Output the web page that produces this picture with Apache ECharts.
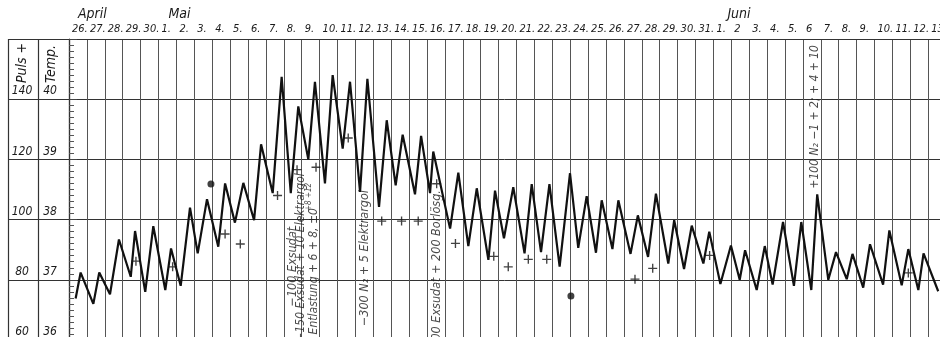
<!DOCTYPE html>
<html>
<head>
<meta charset="utf-8">
<script src="https://cdn.jsdelivr.net/npm/echarts@6/dist/echarts.min.js"></script>
<style>
  html, body { margin: 0; padding: 0; background: #fff; }
  #chart { width: 940px; height: 337px; }
</style>
</head>
<body>
<div id="chart"></div>
<script>
// Tage: 26. April bis 13. Juni, eine Spalte pro Tag
const dayLabels = ['26.', '27.', '28.', '29.', '30.',
  '1.', '2.', '3.', '4.', '5.', '6.', '7.', '8.', '9.', '10.', '11.', '12.', '13.', '14.', '15.', '16.',
  '17.', '18.', '19.', '20.', '21.', '22.', '23.', '24.', '25.', '26.', '27.', '28.', '29.', '30.', '31.',
  '1.', '2', '3.', '4.', '5.', '6', '7.', '8.', '9.', '10.', '11.', '12.', '13.'];
const monthNames = ['April', 'Mai', 'Juni'];
const monthStart = [0, 5, 36];

// Temperatur (morgens / abends), Position in Tagen ab 26. April
const tempDay = [0.37, 0.65, 1.36, 1.69, 2.29, 2.79, 3.45, 3.69, 4.26, 4.71, 5.38, 5.70, 6.24, 6.76, 7.19, 7.71,
  8.34, 8.72, 9.27, 9.74, 10.34, 10.73, 11.38, 11.88, 12.39, 12.81, 13.37, 13.74, 14.30, 14.73, 15.29, 15.70,
  16.26, 16.67, 17.32, 17.75, 18.25, 18.64, 19.33, 19.67, 20.17, 20.35, 21.29, 21.75, 22.31, 22.78, 23.43, 23.80,
  24.30, 24.82, 25.45, 25.85, 26.37, 26.84, 27.41, 27.99, 28.45, 28.92, 29.44, 29.76, 30.36, 30.69, 31.37, 31.78,
  32.35, 32.79, 33.48, 33.81, 34.36, 34.79, 35.44, 35.77, 36.39, 36.98, 37.47, 37.77, 38.42, 38.87, 39.31, 39.89,
  40.50, 40.91, 41.47, 41.80, 42.42, 42.85, 43.45, 43.77, 44.37, 44.75, 45.48, 45.83, 46.52, 46.89, 47.45, 47.74,
  48.56];
const tempValue = [36.69, 37.12, 36.60, 37.12, 36.76, 37.67, 37.05, 37.81, 36.80, 37.89, 36.83, 37.52, 36.90, 38.20, 37.44, 38.34,
  37.55, 38.60, 37.95, 38.61, 37.99, 39.25, 38.44, 40.37, 38.44, 39.88, 39.00, 40.29, 38.60, 40.40, 39.18, 40.29,
  38.46, 40.34, 38.21, 39.65, 38.57, 39.41, 38.42, 39.39, 38.44, 39.13, 37.85, 38.78, 37.56, 38.52, 37.33, 38.48,
  37.69, 38.54, 37.44, 38.59, 37.46, 38.59, 37.22, 38.77, 37.53, 38.39, 37.45, 38.32, 37.51, 38.32, 37.43, 38.07,
  37.38, 38.43, 37.27, 37.99, 37.18, 37.90, 37.27, 37.80, 36.93, 37.57, 37.00, 37.49, 36.83, 37.56, 36.92, 37.96,
  36.90, 37.96, 36.83, 38.42, 37.00, 37.46, 37.01, 37.43, 36.87, 37.59, 36.92, 37.82, 36.91, 37.51, 36.83, 37.44,
  36.81];

// Puls (+)
const pulsDay = [3.74, 5.79, 8.72, 9.57, 11.65, 12.74, 13.80, 15.60, 17.47, 18.58, 19.51, 20.54, 21.59, 23.73,
  24.54, 25.66, 26.69, 31.62, 32.61, 35.79, 46.89];
const pulsValue = [86.2, 84.3, 95.2, 91.9, 108.0, 116.6, 117.4, 127.1, 99.5, 99.5, 99.5, 111.9, 92.1, 87.8,
  84.3, 86.8, 86.8, 80.2, 83.8, 88.1, 82.3];

// Punkte
const dotDay = [7.93, 28.04];
const dotTemp = [38.59, 36.73];

// Eintragungen (senkrecht geschrieben)
const noteText = ['\u2212100 Exsudat', '\u2212150 Exsudat + 10 Elektrargol', '+8 +12', 'Entlastung + 6 + 8, \u00b10',
  '\u2212300 N\u2082 + 5 Elektrargol', '\u2212300 Exsudat + 200 Borl\u00f6sg.', '+100 N\u2082 \u22121 + 2; + 4 + 10'];
const noteDay = [12.51, 12.96, 13.43, 13.66, 16.54, 20.56, 41.68];
const noteTemp = [37.88, 38.77, 38.61, 38.19, 38.49, 38.49, 40.90];
const noteSize = [12.5, 12, 8, 12, 12.5, 12.5, 12];

const hand = "'Liberation Sans Narrow', 'DejaVu Sans Condensed', 'Liberation Sans', sans-serif";
const ink = '#1a1a1a';

const chart = echarts.init(document.getElementById('chart'));
chart.setOption({
  backgroundColor: '#fff',
  animation: false,
  textStyle: { fontFamily: hand, fontStyle: 'italic', color: ink },
  grid: [
    { left: 69, top: 39, width: 871, height: 301, containLabel: false, outerBoundsMode: 'none' },
    { left: 8, top: 39, width: 61, height: 301, containLabel: false, outerBoundsMode: 'none' }
  ],
  xAxis: [
    {
      type: 'value', gridIndex: 0, position: 'top', min: 0, max: 48.66, interval: 1,
      axisLine: { show: true, lineStyle: { color: '#333', width: 1.2 } },
      axisTick: { show: false },
      splitLine: { show: true, lineStyle: { color: '#555', width: 1 } },
      axisLabel: {
        margin: 4, align: 'left', padding: [0, 0, 0, 3],
        fontSize: 11, fontStyle: 'italic', fontFamily: hand, color: ink,
        formatter: v => (Number.isInteger(v) && dayLabels[v] !== undefined) ? dayLabels[v] : ''
      }
    },
    {
      type: 'value', gridIndex: 0, position: 'top', offset: 14, min: 0, max: 48.66, interval: 1,
      axisLine: { show: false }, axisTick: { show: false }, splitLine: { show: false },
      axisLabel: {
        margin: 4, align: 'left',
        fontSize: 14, fontStyle: 'italic', fontFamily: hand, color: ink,
        formatter: v => {
          const i = monthStart.indexOf(v);
          return i >= 0 ? '{m' + i + '|' + monthNames[i] + '}' : '';
        },
        rich: {
          m0: { fontSize: 14, fontStyle: 'italic', fontFamily: hand, color: ink, padding: [0, 0, 0, 9] },
          m1: { fontSize: 14, fontStyle: 'italic', fontFamily: hand, color: ink, padding: [0, 0, 0, 10] },
          m2: { fontSize: 14, fontStyle: 'italic', fontFamily: hand, color: ink, padding: [0, 0, 0, 14] }
        }
      }
    },
    {
      type: 'value', gridIndex: 1, min: 0, max: 2, interval: 1,
      axisLine: { show: false }, axisTick: { show: false }, axisLabel: { show: false },
      splitLine: { show: true, lineStyle: { color: '#333', width: 1.2 } }
    }
  ],
  yAxis: [
    {
      type: 'value', gridIndex: 0, min: 36, max: 41, interval: 1,
      axisLine: { show: true, lineStyle: { color: '#333', width: 1.2 } },
      axisTick: { show: true, inside: true, length: 8, lineStyle: { color: '#444' } },
      minorTick: { show: true, splitNumber: 10, length: 5, lineStyle: { color: '#555' } },
      splitLine: { show: true, lineStyle: { color: '#333', width: 1 } },
      axisLabel: {
        margin: 19, align: 'center', verticalAlign: 'bottom', padding: [0, 0, 2, 0],
        fontSize: 12, fontStyle: 'italic', fontFamily: hand, color: ink,
        formatter: v => v < 41 ? String(v) : ''
      }
    },
    {
      type: 'value', gridIndex: 0, min: 60, max: 160, interval: 20,
      position: 'left',
      axisLine: { show: false }, axisTick: { show: false }, splitLine: { show: false },
      axisLabel: {
        margin: 47, align: 'center', verticalAlign: 'bottom', padding: [0, 0, 2, 0],
        fontSize: 12, fontStyle: 'italic', fontFamily: hand, color: ink,
        formatter: v => v < 160 ? String(v) : ''
      }
    },
    {
      type: 'value', gridIndex: 1, min: 36, max: 41, interval: 1,
      axisLine: { show: false }, axisTick: { show: false }, axisLabel: { show: false },
      splitLine: { show: true, lineStyle: { color: '#333', width: 1 } }
    }
  ],
  graphic: [
    { type: 'text', x: 22, y: 63, rotation: Math.PI / 2,
      style: { text: 'Puls +', fontSize: 14, fontStyle: 'italic', fontFamily: hand, fill: ink, align: 'center', verticalAlign: 'middle' } },
    { type: 'text', x: 51, y: 64, rotation: Math.PI / 2,
      style: { text: 'Temp.', fontSize: 14, fontStyle: 'italic', fontFamily: hand, fill: ink, align: 'center', verticalAlign: 'middle' } }
  ],
  series: [
    {
      name: 'Temperatur', type: 'line', xAxisIndex: 0, yAxisIndex: 0,
      data: tempDay.map((d, i) => [d, tempValue[i]]),
      symbol: 'none', smooth: false,
      lineStyle: { color: '#111', width: 2.2 }
    },
    {
      name: 'Puls', type: 'scatter', xAxisIndex: 0, yAxisIndex: 1,
      data: pulsDay.map((d, i) => [d, pulsValue[i]]),
      symbol: 'path://M4.25,0h1.5v10h-1.5z M0,4.25h10v1.5h-10z', symbolSize: 9,
      itemStyle: { color: '#111' }
    },
    {
      name: 'Punkte', type: 'scatter', xAxisIndex: 0, yAxisIndex: 0,
      data: dotDay.map((d, i) => [d, dotTemp[i]]),
      symbol: 'circle', symbolSize: 7,
      itemStyle: { color: '#111' }
    },
    {
      name: 'Eintragungen', type: 'scatter', xAxisIndex: 0, yAxisIndex: 0,
      data: noteDay.map((d, i) => ({
        value: [d, noteTemp[i]], name: noteText[i],
        label: { fontSize: noteSize[i] }
      })),
      symbolSize: 0,
      label: {
        show: true, position: 'inside', rotate: 90, align: 'right', verticalAlign: 'middle',
        formatter: p => p.name, color: ink, fontStyle: 'italic', fontFamily: hand
      }
    }
  ]
});
</script>
</body>
</html>
